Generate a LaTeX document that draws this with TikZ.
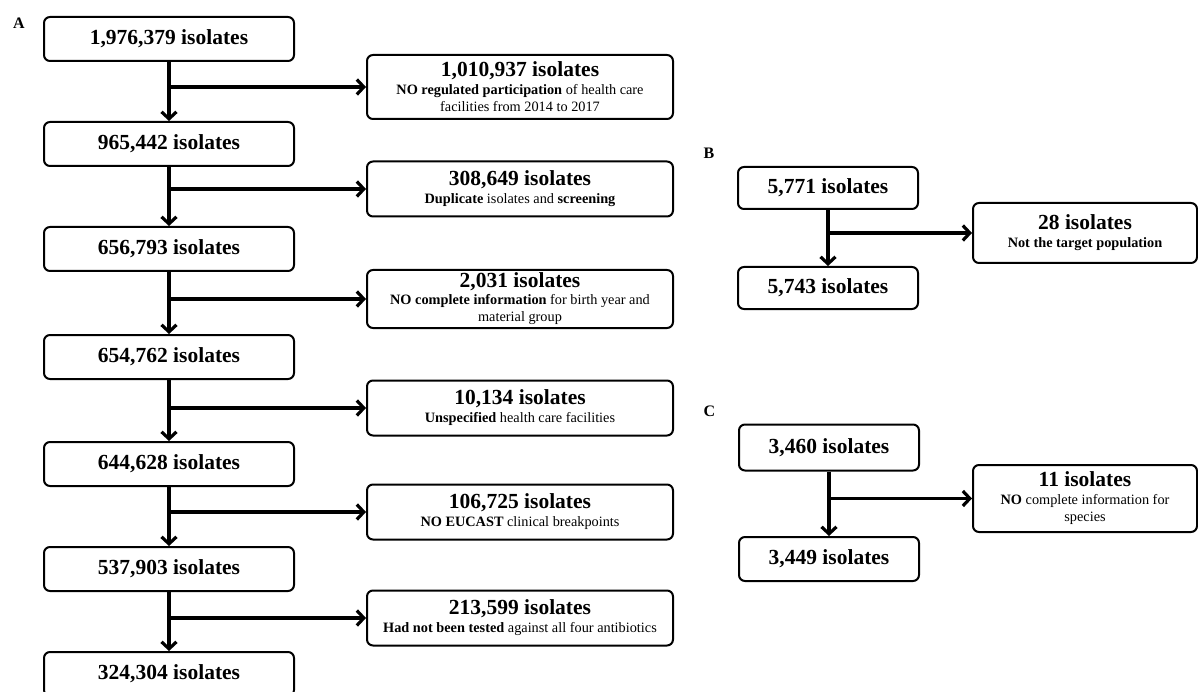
\documentclass[tikz,border=0pt]{standalone}
\usepackage{fontspec}
\setmainfont{Liberation Serif}
\usetikzlibrary{arrows.meta}

\newcommand{\bignum}[1]{{\fontsize{21.5}{23}\selectfont\bfseries #1}}

\begin{document}
\begin{tikzpicture}[x=1pt, y=-1pt,
    countbox/.style={draw, rounded corners=6pt, line width=2pt, minimum width=250pt, minimum height=44pt, inner sep=1pt, font=\fontsize{21.5}{23}\selectfont\bfseries},
    dropbox/.style={draw, rounded corners=6pt, line width=2pt, minimum width=306pt, minimum height=55pt, inner sep=1pt, align=center, font=\fontsize{14.3}{17}\selectfont},
    flow/.style={line width=3.2pt, -{Straight Barb[length=7pt, width=15pt, line width=3.2pt]}},
    panel/.style={font=\fontsize{16}{16}\selectfont\bfseries}]
    \useasboundingbox (0,0) rectangle (1198,692);

    % panel A
    \node[panel] at (19, 23.5)   (la) {A};
    \node[countbox] at (169, 39)    (a1) {1,976,379 isolates};
    \node[countbox] at (169, 144)   (a2) {965,442 isolates};
    \node[countbox] at (169, 249)   (a3) {656,793 isolates};
    \node[countbox] at (169, 357)   (a4) {654,762 isolates};
    \node[countbox] at (169, 464)   (a5) {644,628 isolates};
    \node[countbox] at (169, 569)   (a6) {537,903 isolates};
    \node[countbox] at (169, 674)   (a7) {324,304 isolates};

    \node[dropbox, minimum height=64pt] at (520, 87)   (r1) {\bignum{1,010,937 isolates}\\[1pt]\textbf{NO regulated participation} of health care\\facilities from 2014 to 2017};
    \node[dropbox] at (520, 189)   (r2) {\bignum{308,649 isolates}\\[1pt]\textbf{Duplicate} isolates and \textbf{screening}};
    \node[dropbox, minimum height=58pt] at (520, 299)   (r3) {\bignum{2,031 isolates}\\\textbf{NO complete information} for birth year and\\material group};
    \node[dropbox] at (520, 408)   (r4) {\bignum{10,134 isolates}\\[1pt]\textbf{Unspecified} health care facilities};
    \node[dropbox] at (520, 512)   (r5) {\bignum{106,725 isolates}\\[1pt]\textbf{NO EUCAST} clinical breakpoints};
    \node[dropbox] at (520, 618)   (r6) {\bignum{213,599 isolates}\\[1pt]\textbf{Had not been tested} against all four antibiotics};

    \draw [flow] (a1) -- (a2);
    \draw [flow] (a2) -- (a3);
    \draw [flow] (a3) -- (a4);
    \draw [flow] (a4) -- (a5);
    \draw [flow] (a5) -- (a6);
    \draw [flow] (a6) -- (a7);
    \draw [flow] (a1 |- r1) -- (r1);
    \draw [flow] (a2 |- r2) -- (r2);
    \draw [flow] (a3 |- r3) -- (r3);
    \draw [flow] (a4 |- r4) -- (r4);
    \draw [flow] (a5 |- r5) -- (r5);
    \draw [flow] (a6 |- r6) -- (r6);

    % panel B
    \node[panel] at (709, 153)   (lb) {B};
    \node[countbox, minimum width=180pt, minimum height=42pt] at (828, 188)   (b1) {5,771 isolates};
    \node[countbox, minimum width=180pt, minimum height=42pt] at (828, 288)   (b2) {5,743 isolates};
    \node[dropbox, minimum width=224pt, minimum height=60pt] at (1085, 233)   (bx) {\bignum{28 isolates}\\[1pt]\textbf{Not the target population}};
    \draw [flow] (b1) -- (b2);
    \draw [flow] (b1 |- bx) -- (bx);

    % panel C
    \node[panel] at (709.5, 411.5)   (lc) {C};
    \node[countbox, minimum width=180pt, minimum height=46pt] at (829, 447.5)   (c1) {3,460 isolates};
    \node[countbox, minimum width=180pt, minimum height=44pt] at (829, 559)   (c2) {3,449 isolates};
    \node[dropbox, minimum width=224pt, minimum height=67pt] at (1085, 498.5)   (cx) {\bignum{11 isolates}\\[1pt]\textbf{NO} complete information for\\species};
    \draw [flow] (c1) -- (c2);
    \draw [flow] (c1 |- cx) -- (cx);
\end{tikzpicture}
\end{document}
